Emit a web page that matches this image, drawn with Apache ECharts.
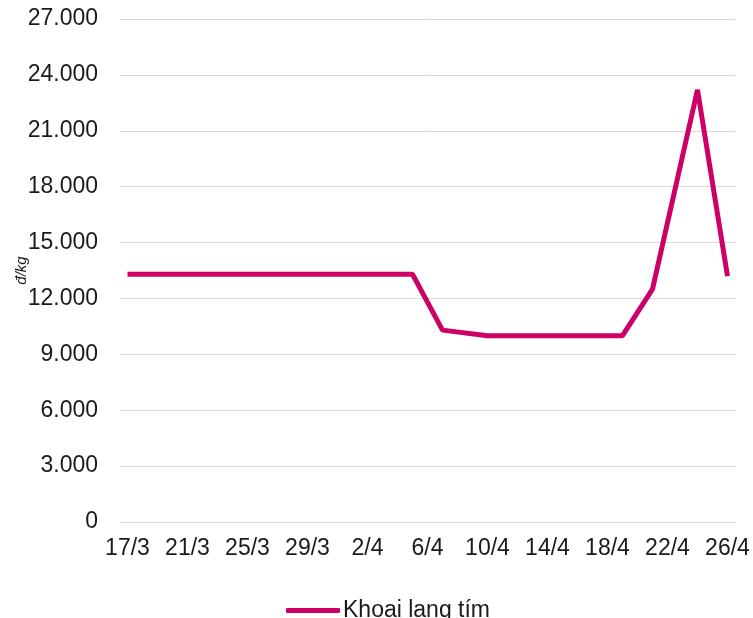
<!DOCTYPE html>
<html>
<head>
<meta charset="utf-8">
<script src="https://cdn.jsdelivr.net/npm/echarts@6/dist/echarts.min.js"></script>
<style>
  html, body { margin: 0; padding: 0; background: #fff; }
  #chart { width: 753px; height: 618px; }
</style>
</head>
<body>
<div id="chart"></div>
<script>
// trục ngày: 17/3 -> 26/4
const days = [
  '17/3', '18/3', '19/3', '20/3', '21/3', '22/3', '23/3', '24/3', '25/3', '26/3',
  '27/3', '28/3', '29/3', '30/3', '31/3', '1/4', '2/4', '3/4', '4/4', '5/4',
  '6/4', '7/4', '8/4', '9/4', '10/4', '11/4', '12/4', '13/4', '14/4', '15/4',
  '16/4', '17/4', '18/4', '19/4', '20/4', '21/4', '22/4', '23/4', '24/4', '25/4', '26/4'
];

// các ngày có giá
const obsDates = ['17/3', '20/3', '23/3', '26/3', '29/3', '1/4', '5/4', '7/4', '10/4',
                  '12/4', '14/4', '17/4', '19/4', '21/4', '24/4', '26/4'];
const prices = [13300, 13300, 13300, 13300, 13300, 13300, 13300, 10300, 10000,
                10000, 10000, 10000, 10000, 12500, 23200, 13200];

const seriesName = 'Khoai lang tím';
const fontFamily = "'Liberation Sans', Arial, sans-serif";
const lineColor = '#CC0066';

const fmt = v => String(v).replace(/\B(?=(\d{3})+(?!\d))/g, '.');

const chart = echarts.init(document.getElementById('chart'));

chart.setOption({
  animation: false,
  textStyle: { fontFamily: fontFamily },
  grid: { left: 120, right: 18, top: 19, bottom: 96, outerBoundsMode: 'none' },
  legend: {
    data: [{ name: seriesName, icon: 'roundRect' }],
    left: 281,
    top: 594,
    itemWidth: 54,
    itemHeight: 5,
    itemGap: 4,
    textStyle: { fontSize: 23, color: '#1a1a1a', fontFamily: fontFamily, padding: [0, 0, 0, -2] }
  },
  xAxis: {
    type: 'category',
    data: days,
    boundaryGap: true,
    axisLine: { show: false },
    axisTick: { show: false },
    splitLine: { show: false },
    axisLabel: {
      interval: 3,
      margin: 15,
      fontSize: 23,
      color: '#1a1a1a'
    }
  },
  yAxis: {
    type: 'value',
    min: 0,
    max: 27000,
    interval: 3000,
    name: 'đ/kg',
    nameLocation: 'middle',
    nameRotate: 90,
    nameGap: 91,
    nameMoveOverlap: false,
    nameTextStyle: { fontStyle: 'italic', fontSize: 15, color: '#1a1a1a' },
    axisLine: { show: false },
    axisTick: { show: false },
    splitLine: { lineStyle: { color: '#d9d9d9', width: 1 } },
    axisLabel: {
      margin: 22,
      fontSize: 23,
      color: '#1a1a1a',
      formatter: fmt
    }
  },
  series: [
    {
      name: seriesName,
      type: 'line',
      symbol: 'none',
      data: obsDates.map((d, i) => [d, prices[i]]),
      lineStyle: { color: lineColor, width: 5 },
      itemStyle: { color: lineColor }
    }
  ]
});
</script>
</body>
</html>
